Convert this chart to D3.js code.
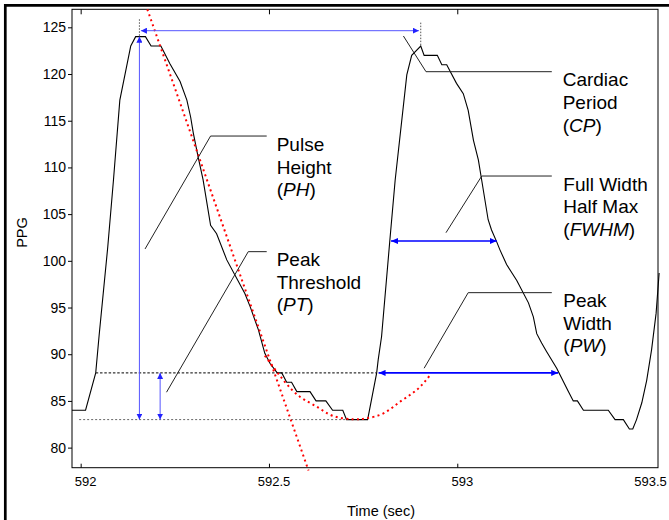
<!DOCTYPE html>
<html>
<head>
<meta charset="utf-8">
<script src="https://cdn.jsdelivr.net/npm/d3@7"></script>
<style>
  body { margin: 0; background: #fff; }
  text { font-family: "Liberation Sans", Arial, sans-serif; fill: #000; }
</style>
</head>
<body>
<script>
const WIDTH = 669;
const HEIGHT = 520;

// PPG trace (time in sec, PPG units)
const timeSec = [591.977, 592.013, 592.040, 592.049, 592.072, 592.087, 592.104, 592.133, 592.146, 592.172,
                 592.187, 592.213, 592.237, 592.264, 592.282, 592.292, 592.299, 592.312, 592.325, 592.345,
                 592.361, 592.388, 592.436, 592.450, 592.472, 592.489, 592.503, 592.522, 592.534, 592.547,
                 592.560, 592.574, 592.609, 592.625, 592.651, 592.669, 592.696, 592.706, 592.762, 592.786,
                 592.790, 592.799, 592.821, 592.835, 592.866, 592.879, 592.903, 592.912, 592.947, 592.959,
                 592.972, 592.981, 592.998, 593.016, 593.029, 593.043, 593.056, 593.065, 593.082, 593.091,
                 593.105, 593.113, 593.131, 593.158, 593.189, 593.202, 593.211, 593.224, 593.237, 593.264,
                 593.295, 593.308, 593.319, 593.335, 593.401, 593.419, 593.441, 593.457, 593.466, 593.476,
                 593.490, 593.503, 593.516, 593.528, 593.536];
const ppg     = [84, 84, 88, 92, 101.5, 108.6, 117.2, 123, 124, 124,
                 123, 123, 121.1, 119.2, 117.2, 115.4, 113.7, 111.1, 108.7, 103.8,
                 102.9, 100.1, 96.5, 95.1, 92.6, 90.1, 89.0, 88, 88, 87,
                 87, 86, 86, 85, 85, 84, 84, 83, 83, 88,
                 89.4, 91.9, 102.2, 108.6, 119.9, 122, 123, 122, 122, 121,
                 121, 120.3, 119, 117.9, 116.1, 112.9, 110.8, 108.6, 104.4, 103.3,
                 102.0, 101.2, 99.6, 97.9, 95.5, 94.0, 92.2, 91.2, 90.3, 88.5,
                 86.0, 85, 85, 84, 84, 83, 83, 82, 82, 83,
                 84.8, 87.2, 90.5, 94.4, 98.7];

// red dotted fits
const tangentTime = [592.177, 592.605];
const tangentPPG  = [126.93, 77.55];
const fitTime = [592.489, 592.538, 592.582, 592.627, 592.671, 592.724, 592.759, 592.804, 592.848, 592.892, 592.928];
const fitPPG  = [89.85, 87.24, 85.45, 84.38, 83.38, 83.03, 83.14, 83.67, 84.91, 86.17, 87.77];

// threshold lines [level, start, end]
const thresholdLevels = [88, 83];
const thresholdStart  = [592.040, 591.996];
const thresholdEnd    = [592.786, 592.706];

// measurement arrows [t1, v1, t2, v2]
const arrowNames = ["CP", "PH", "PT", "FWHM", "PW"];
const arrowT1 = [592.160, 592.156, 592.211, 592.824, 592.791];
const arrowV1 = [124.64, 124, 88, 102.12, 88];
const arrowT2 = [592.898, 592.156, 592.211, 593.105, 593.268];
const arrowV2 = [124.64, 83, 83, 102.12, 88];

// dotted marks above the two peaks
const peakTime = [592.156, 592.903];
const peakTop  = [125.86, 125.5];
const peakPPG  = [124, 123];

// callout leaders (three points each)
const leaderT = [[592.857, 592.917, 593.251], [592.171, 592.345, 592.494], [592.228, 592.445, 592.494],
                 [592.970, 593.065, 593.251], [592.912, 593.029, 593.251]];
const leaderV = [[124.07, 120.25, 120.25], [101.27, 113.36, 113.36], [85.93, 100.98, 100.98],
                 [103.01, 109.08, 109.08], [88.50, 96.59, 96.59]];

const labelLines = [["Cardiac", "Period", ["(", "CP", ")"]],
                    ["Pulse", "Height", ["(", "PH", ")"]],
                    ["Peak", "Threshold", ["(", "PT", ")"]],
                    ["Full Width", "Half Max", ["(", "FWHM", ")"]],
                    ["Peak", "Width", ["(", "PW", ")"]]];
const labelX = [562.7, 276.7, 276.7, 563.3, 563.3];
const labelY = [86, 150.7, 265.7, 190.5, 306.7];

const xTicks = [592, 592.5, 593, 593.5];
const yTicks = [80, 85, 90, 95, 100, 105, 110, 115, 120, 125];

const svg = d3.select("body").append("svg")
  .attr("width", WIDTH)
  .attr("height", HEIGHT);

// figure frame (thick left/top edges)
svg.append("line").attr("x1", 4).attr("y1", 5.3).attr("x2", WIDTH).attr("y2", 5.3)
  .style("stroke", "#000").style("stroke-width", 2.7);
svg.append("line").attr("x1", 5.3).attr("y1", 4).attr("x2", 5.3).attr("y2", HEIGHT)
  .style("stroke", "#000").style("stroke-width", 2.7);

const L = 72, R = 658, T = 9.3, B = 467.7;
const x = d3.scaleLinear().domain([591.977, 593.533]).range([L, R]);
const y = d3.scaleLinear().domain([77.85, 126.93]).range([B, T]);

// arrow markers
const defs = svg.append("defs");
function addMarker(id, color, w, h) {
  defs.append("marker")
    .attr("id", id)
    .attr("viewBox", `0 ${-h} ${w} ${2 * h}`)
    .attr("refX", w).attr("refY", 0)
    .attr("markerWidth", w).attr("markerHeight", 2 * h)
    .attr("markerUnits", "userSpaceOnUse")
    .attr("orient", "auto-start-reverse")
    .append("path")
    .attr("d", `M0,${-h}L${w},0L0,${h}Z`)
    .style("fill", color);
}
addMarker("arrThin", "#2222ff", 6, 3);
addMarker("arrThick", "#0000ff", 7, 3);

// axes
const xAxisB = d3.axisBottom(x).tickValues(xTicks).tickSizeInner(-4).tickSizeOuter(0).tickPadding(9)
  .tickFormat(d3.format("~g"));
const gx = svg.append("g").attr("transform", `translate(0,${B})`).call(xAxisB);
gx.select(".domain").remove();
gx.selectAll("text").attr("dx", 4.5).style("font-size", "13px");
gx.selectAll(".tick line").filter(d => d === 593.5).remove();

const xAxisT = d3.axisTop(x).tickValues(xTicks.slice(0, 3)).tickSizeInner(-5).tickSizeOuter(0).tickFormat("");
const gxt = svg.append("g").attr("transform", `translate(0,${T})`).call(xAxisT);
gxt.select(".domain").remove();

const yAxis = d3.axisLeft(y).tickValues(yTicks).tickSizeInner(4).tickSizeOuter(0).tickPadding(2);
const gy = svg.append("g").attr("transform", `translate(${L},0)`).call(yAxis);
gy.select(".domain").remove();
gy.selectAll("text").style("font-size", "14px");

svg.append("rect")
  .attr("x", L).attr("y", T).attr("width", R - L).attr("height", B - T)
  .style("fill", "none").style("stroke", "#000").style("stroke-width", 1);

svg.append("text")
  .attr("x", 381).attr("y", 515.5)
  .style("font-size", "14.5px").style("text-anchor", "middle")
  .text("Time (sec)");
svg.append("text")
  .attr("transform", `translate(26.5,232.5) rotate(-90)`)
  .style("font-size", "14.5px").style("text-anchor", "middle")
  .text("PPG");

// threshold lines
thresholdLevels.forEach((lv, i) => {
  svg.append("line")
    .attr("x1", x(thresholdStart[i])).attr("x2", x(thresholdEnd[i]))
    .attr("y1", y(lv)).attr("y2", y(lv))
    .style("stroke", i === 0 ? "#000" : "#666")
    .style("stroke-width", 1)
    .style("stroke-dasharray", i === 0 ? "2.5,1.8" : "2,2");
});

// dotted marks above peaks
peakTime.forEach((t, i) => {
  svg.append("line")
    .attr("x1", x(t)).attr("x2", x(t))
    .attr("y1", y(peakTop[i])).attr("y2", y(peakPPG[i]))
    .style("stroke", "#555").style("stroke-width", 1)
    .style("stroke-dasharray", "1.5,1.5");
});

// PPG trace
const line = d3.line().x(d => x(d[0])).y(d => y(d[1]));
svg.append("path")
  .datum(timeSec.map((t, i) => [t, ppg[i]]))
  .attr("d", line)
  .style("fill", "none").style("stroke", "#000").style("stroke-width", 1.1);

// red fits
svg.append("path")
  .datum(tangentTime.map((t, i) => [t, tangentPPG[i]]))
  .attr("d", line)
  .style("fill", "none").style("stroke", "#ff0000").style("stroke-width", 2)
  .style("stroke-dasharray", "2,3.3");
svg.append("path")
  .datum(fitTime.map((t, i) => [t, fitPPG[i]]))
  .attr("d", d3.line().x(d => x(d[0])).y(d => y(d[1])).curve(d3.curveNatural))
  .style("fill", "none").style("stroke", "#ff0000").style("stroke-width", 2)
  .style("stroke-dasharray", "2,3.3");

// leaders
leaderT.forEach((ts, i) => {
  svg.append("path")
    .datum(ts.map((t, j) => [t, leaderV[i][j]]))
    .attr("d", line)
    .style("fill", "none").style("stroke", "#222").style("stroke-width", 1);
});

// measurement arrows
arrowNames.forEach((n, i) => {
  const thick = (n === "FWHM" || n === "PW");
  svg.append("line")
    .attr("x1", x(arrowT1[i])).attr("y1", y(arrowV1[i]))
    .attr("x2", x(arrowT2[i])).attr("y2", y(arrowV2[i]))
    .style("stroke", thick ? "#0000ff" : "#5555ff")
    .style("stroke-width", thick ? 1.6 : 1)
    .attr("marker-start", thick ? "url(#arrThick)" : "url(#arrThin)")
    .attr("marker-end", thick ? "url(#arrThick)" : "url(#arrThin)");
});

// callout labels
labelLines.forEach((lines, i) => {
  const txt = svg.append("text")
    .attr("x", labelX[i]).attr("y", labelY[i])
    .style("font-size", "19px");
  lines.forEach((ln, j) => {
    if (Array.isArray(ln)) {
      txt.append("tspan").attr("x", labelX[i]).attr("y", labelY[i] + j * 22.8).text(ln[0]);
      txt.append("tspan").style("font-style", "italic").text(ln[1]);
      txt.append("tspan").text(ln[2]);
    } else {
      txt.append("tspan").attr("x", labelX[i]).attr("y", labelY[i] + j * 22.8).text(ln);
    }
  });
});
</script>
</body>
</html>
